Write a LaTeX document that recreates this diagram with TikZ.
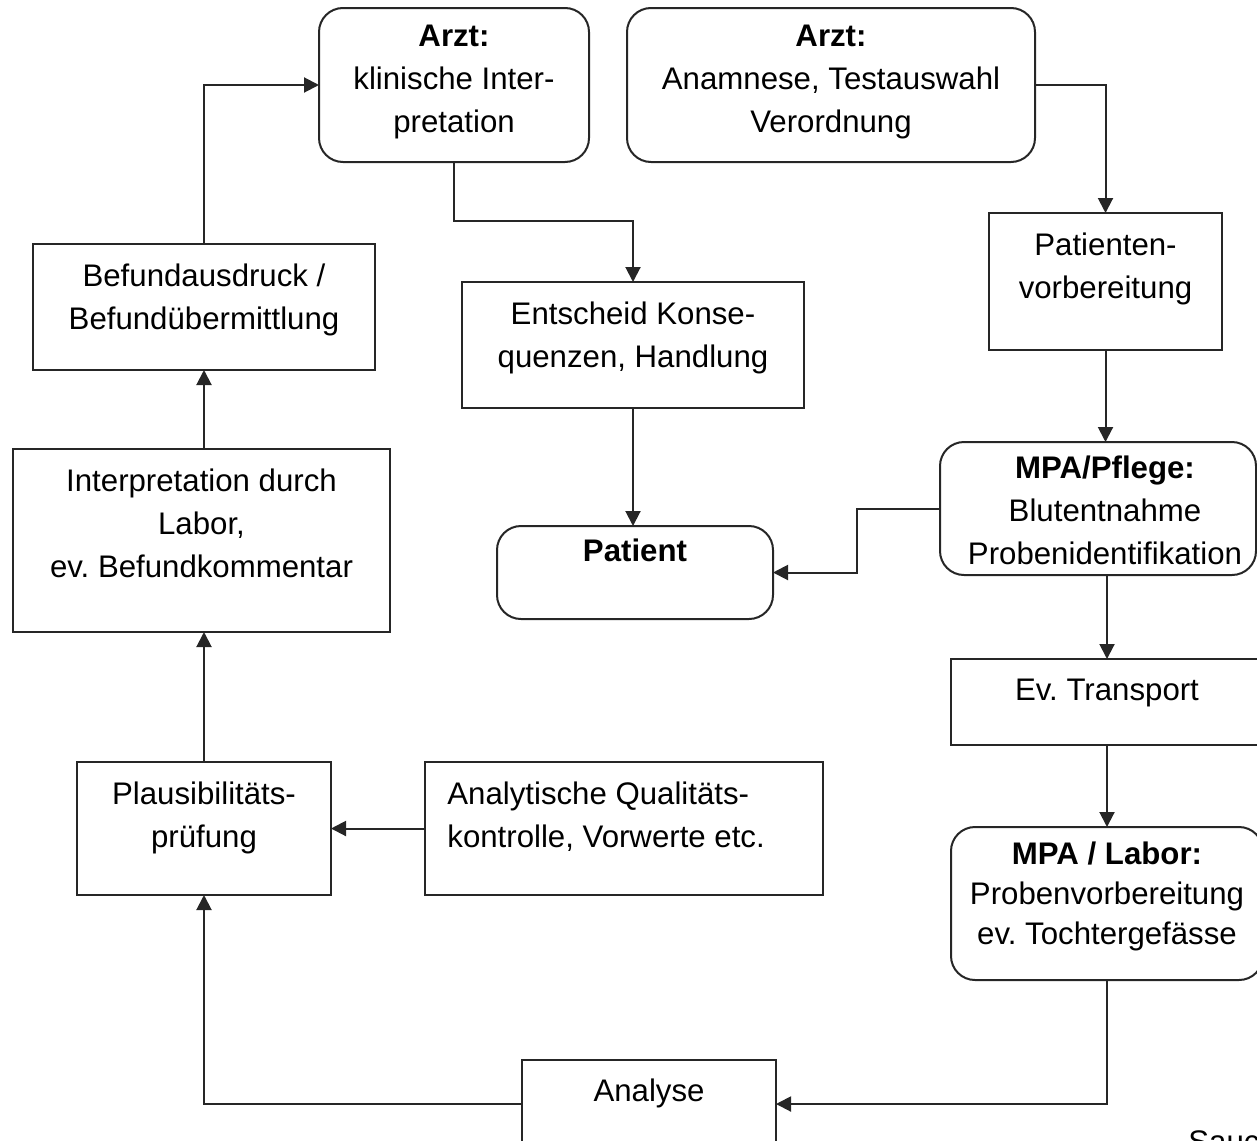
\documentclass[tikz,border=0pt]{standalone}
\usepackage{fontspec}
\setmainfont{Liberation Sans}
\usetikzlibrary{arrows.meta}
\frenchspacing
\begin{document}
\begin{tikzpicture}[x=0.5pt,y=-0.5pt,
		box/.style={draw=black!85,line width=1pt,anchor=north west,inner sep=0pt,outer sep=0pt},
		rbox/.style={box,rounded corners=12pt},
		txt/.style={anchor=north,align=center,inner sep=0pt,font=\fontsize{15.6}{21.5}\selectfont},
		arr/.style={draw=black!85,line width=1pt,-{Triangle[length=7.5pt,width=7.5pt]}}]
		\useasboundingbox (0,0) rectangle (1257,1140);
		\node[rbox,minimum width=135pt,minimum height=77pt] (arztint) at (319,8) {};
		\node[rbox,minimum width=204pt,minimum height=77pt] (arztanam) at (627,8) {};
		\node[box,minimum width=116.5pt,minimum height=68.5pt] (patvor) at (989,213) {};
		\node[rbox,minimum width=158pt,minimum height=66.5pt] (mpapfl) at (940,442) {};
		\node[box,minimum width=156pt,minimum height=43pt] (transp) at (951,659) {};
		\node[rbox,minimum width=156pt,minimum height=76.5pt] (mpalab) at (951,827) {};
		\node[box,minimum width=127pt,minimum height=44pt] (analyse) at (522,1060) {};
		\node[box,minimum width=127pt,minimum height=66.5pt] (plaus) at (77,762) {};
		\node[box,minimum width=199pt,minimum height=66.5pt] (qualk) at (425,762) {};
		\node[box,minimum width=188.5pt,minimum height=91.5pt] (interp) at (13,449) {};
		\node[box,minimum width=171pt,minimum height=63pt] (befund) at (33,244) {};
		\node[box,minimum width=171pt,minimum height=63pt] (entsch) at (462,282) {};
		\node[rbox,minimum width=138pt,minimum height=46.5pt] (patient) at (497,526) {};

		\node[txt,yshift=-8.25pt] (arztint-t) at (arztint.north) {\textbf{Arzt:}\\klinische Inter-\\pretation};
		\node[txt,yshift=-8.25pt] (arztanam-t) at (arztanam.north) {\textbf{Arzt:}\\Anamnese, Testauswahl\\Verordnung};
		\node[txt,yshift=-9.75pt] (patvor-t) at (patvor.north) {Patienten-\\vorbereitung};
		\node[txt,yshift=-6.75pt,xshift=3.5pt] (mpapfl-t) at (mpapfl.north) {\textbf{MPA/Pflege:}\\Blutentnahme\\Probenidentifikation};
		\node[txt,yshift=-9.75pt] (transp-t) at (transp.north) {Ev. Transport};
		\node[txt,yshift=-7.25pt,font=\fontsize{15.6}{20}\selectfont] (mpalab-t) at (mpalab.north) {\textbf{MPA / Labor:}\\Probenvorbereitung\\ev. Tochtergefässe};
		\node[txt,yshift=-9.25pt] (analyse-t) at (analyse.north) {Analyse};
		\node[txt,yshift=-9.75pt] (plaus-t) at (plaus.north) {Plausibilitäts-\\prüfung};
		\node[txt,anchor=north west,align=left,xshift=11pt,yshift=-9.75pt] (qualk-t) at (qualk.north west) {Analytische Qualitäts-\\kontrolle, Vorwerte etc.};
		\node[txt,yshift=-9.75pt] (interp-t) at (interp.north) {Interpretation durch\\Labor,\\ev. Befundkommentar};
		\node[txt,yshift=-9.75pt] (befund-t) at (befund.north) {Befundausdruck /\\Befundübermittlung};
		\node[txt,yshift=-9.75pt] (entsch-t) at (entsch.north) {Entscheid Konse-\\quenzen, Handlung};
		\node[txt,yshift=-6.25pt] (patient-t) at (patient.north) {\textbf{Patient}};
		\node[txt,anchor=north west] (quelle) at (1188,1130) {Sauc};

		\draw[arr] (arztanam.east) -| (patvor.north);
		\draw[arr] (patvor.south) -- (patvor.south |- mpapfl.north);
		\draw[arr] (mpapfl.west) -- ++(-83,0) |- (patient.east);
		\draw[arr] (transp.north |- mpapfl.south) -- (transp.north);
		\draw[arr] (transp.south) -- (mpalab.north);
		\draw[arr] (mpalab.south) |- (analyse.east);
		\draw[arr] (analyse.west) -| (plaus.south);
		\draw[arr] (qualk.west) -- (plaus.east);
		\draw[arr] (plaus.north) -- (plaus.north |- interp.south);
		\draw[arr] (befund.south |- interp.north) -- (befund.south);
		\draw[arr] (befund.north) |- (arztint.west);
		\draw[arr] (arztint.south) -- ++(0,59) -| (entsch.north);
		\draw[arr] (entsch.south) -- (entsch.south |- patient.north);
\end{tikzpicture}
\end{document}
